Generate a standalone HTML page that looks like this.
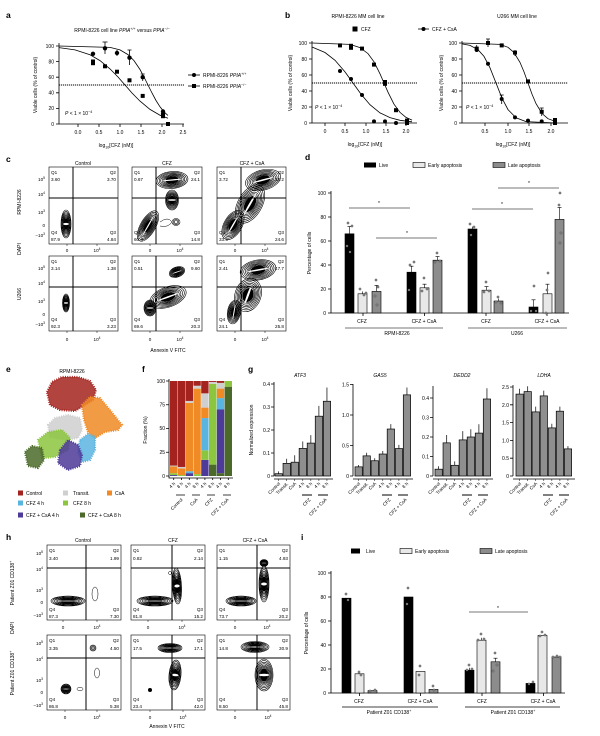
<!DOCTYPE html>
<html><head><meta charset="utf-8"><style>
html,body{margin:0;padding:0;background:#fff;}
svg{display:block;font-family:"Liberation Sans",Arial,sans-serif;}
</style></head><body>
<svg width="600" height="736" viewBox="0 0 600 736" xmlns="http://www.w3.org/2000/svg" font-size="5" fill="#000">
<defs>
<g id="bl" fill="none" stroke="#000" stroke-width="0.6">
<circle r="1" vector-effect="non-scaling-stroke"/>
<circle r="0.9" vector-effect="non-scaling-stroke"/>
<circle r="0.8" vector-effect="non-scaling-stroke"/>
<circle r="0.71" vector-effect="non-scaling-stroke"/>
<circle r="0.62" vector-effect="non-scaling-stroke"/>
<circle r="0.54" vector-effect="non-scaling-stroke"/>
<circle r="0.47" vector-effect="non-scaling-stroke"/>
<circle r="0.4" fill="#000" vector-effect="non-scaling-stroke"/>
<ellipse rx="0.6" ry="0.08" fill="#fff" stroke="none"/>
</g>
<g id="rg" fill="none" stroke="#000" stroke-width="0.55">
<circle r="1" vector-effect="non-scaling-stroke"/>
<circle r="0.7" vector-effect="non-scaling-stroke"/>
<circle r="0.4" vector-effect="non-scaling-stroke"/>
</g>
</defs>

<!-- panel letters -->
<g font-weight="bold" font-size="8.5">
<text x="6" y="18">a</text><text x="285" y="18">b</text><text x="6" y="162">c</text><text x="305" y="160">d</text>
<text x="6" y="372">e</text><text x="142" y="372">f</text><text x="248" y="372">g</text><text x="6" y="540">h</text><text x="301" y="540">i</text>
</g>

<!-- ================= PANEL A ================= -->
<text x="122" y="32" text-anchor="middle">RPMI-8226 cell line <tspan font-style="italic">PPIA</tspan><tspan dy="-2" font-size="3.6">+/+</tspan><tspan dy="2"> versus </tspan><tspan font-style="italic">PPIA</tspan><tspan dy="-2" font-size="3.6">−/−</tspan></text>
<g stroke="#000" stroke-width="0.8" fill="none">
<polyline points="59,43 59,124 184,124"/>
<path d="M56,124H59M56,108.4H59M56,92.8H59M56,77.2H59M56,61.6H59M56,46H59"/>
<path d="M78,124V127M99,124V127M120,124V127M141,124V127M162,124V127M183,124V127"/>
<line x1="59" y1="85" x2="184" y2="85" stroke-dasharray="1.2,0.8" stroke-width="1"/>
<polyline points="59,46 110,47.4 120,49.9 128,54.6 134,60.6 140,69.5 144,77 148,85 152,93 156,100.5 160,106.8 164,111.8 168,115.5"/>
<polyline points="59,47.6 75,49.9 90,54.8 100,60.6 110,68.9 118,77 125,85 132,93 140,101.1 150,109.4 160,115.2 168,118.2"/>
<path d="M105,42V54M102.5,42H107.5M129.5,50V65M127.5,50H131.5M142.7,74V81M140.7,74H144.7M117,50V56"/>
</g>
<g text-anchor="end"><text x="54" y="126">0</text><text x="54" y="110.2">20</text><text x="54" y="94.6">40</text><text x="54" y="79">60</text><text x="54" y="63.4">80</text><text x="54" y="47.8">100</text></g>
<g text-anchor="middle"><text x="78" y="134">0.0</text><text x="99" y="134">0.5</text><text x="120" y="134">1.0</text><text x="141" y="134">1.5</text><text x="162" y="134">2.0</text><text x="183" y="134">2.5</text>
<text x="116" y="147">log<tspan dy="1.5" font-size="3.6">10</tspan><tspan dy="-1.5">[CFZ (nM)]</tspan></text></g>
<text transform="translate(37,85) rotate(-90)" text-anchor="middle">Viable cells (% of control)</text>
<text x="65" y="115"><tspan font-style="italic">P</tspan> &lt; 1 × 10<tspan dy="-2" font-size="3.6">−4</tspan></text>
<g>
<circle cx="93" cy="53.8" r="2.2"/><circle cx="105" cy="48.3" r="2.2"/><circle cx="117" cy="53" r="2.2"/><circle cx="129.5" cy="57.7" r="2.2"/><circle cx="142.7" cy="77.2" r="2.2"/><circle cx="163" cy="111.5" r="2.2"/><circle cx="163" cy="114" r="2.2"/>
<rect x="91" y="61.2" width="4" height="4"/><rect x="91" y="59.5" width="4" height="4"/><rect x="103" y="64.3" width="4" height="4"/><rect x="115" y="69.7" width="4" height="4"/><rect x="127.5" y="78.3" width="4" height="4"/><rect x="140.7" y="93.9" width="4" height="4"/><rect x="161" y="114.2" width="4" height="4"/><rect x="166" y="122" width="4" height="4"/>
</g>
<line x1="188" y1="75" x2="200" y2="75" stroke="#000" stroke-width="0.8"/><circle cx="194" cy="75" r="2"/>
<text x="203" y="77">RPMI-8226 <tspan font-style="italic">PPIA</tspan><tspan dy="-2" font-size="3.6">+/+</tspan></text>
<line x1="188" y1="86" x2="200" y2="86" stroke="#000" stroke-width="0.8"/><rect x="192" y="84" width="4" height="4"/>
<text x="203" y="88">RPMI-8226 <tspan font-style="italic">PPIA</tspan><tspan dy="-2" font-size="3.6">−/−</tspan></text>

<!-- ================= PANEL B ================= -->
<text x="358" y="18" text-anchor="middle">RPMI-8226 MM cell line</text>
<text x="517" y="18" text-anchor="middle">U266 MM cell line</text>
<rect x="352.5" y="26.5" width="5" height="5"/><text x="361" y="31">CFZ</text>
<line x1="418" y1="29" x2="429" y2="29" stroke="#000" stroke-width="0.8"/><circle cx="423.5" cy="29" r="2"/><text x="432" y="31">CFZ + CsA</text>
<g stroke="#000" stroke-width="0.8" fill="none">
<polyline points="312,41 312,123 417,123"/>
<path d="M309,123H312M309,107H312M309,91H312M309,75H312M309,59H312M309,43H312"/>
<path d="M325,123V126M345,123V126M366,123V126M386,123V126M406,123V126"/>
<line x1="312" y1="83" x2="417" y2="83" stroke-dasharray="1.2,0.8" stroke-width="1"/>
<polyline points="312,43 350,44.4 360,47.6 368,53.6 374,61.8 380,73.8 384,83 388,92.2 394,104.2 400,112.4 406,117.4 412,120.1"/>
<polyline points="312,47 325,52.5 335,60.3 345,71.9 353,83 361,94.1 370,104.7 380,112.9 390,117.6 400,120.3 412,121.8"/>
<polyline points="462,41 462,123 568,123"/>
<path d="M459,123H462M459,107H462M459,91H462M459,75H462M459,59H462M459,43H462"/>
<path d="M485,123V126M508,123V126M529,123V126M551,123V126"/>
<line x1="462" y1="83" x2="568" y2="83" stroke-dasharray="1.2,0.8" stroke-width="1"/>
<polyline points="462,43 500,44.4 508,47.3 514,52.5 520,62.4 524,71.9 528,83 532,94.1 536,103.6 542,113.5 548,118.7 556,121.6"/>
<polyline points="462,43.9 470,45.4 478,49.7 484,56.4 490,67.8 496,83 502,98.2 508,109.6 516,117.8 526,121.6 556,123"/>
<path d="M488,39V47M486,39H490M501.7,95V104M499.7,95H503.7M541.7,108V116M539.7,108H543.7M476.7,45V52M515,50V56"/>
</g>
<g>
<rect x="338" y="43.4" width="4" height="4"/><rect x="349" y="45.8" width="4" height="4"/><rect x="349" y="43.8" width="4" height="4"/><rect x="360" y="46.6" width="4" height="4"/><rect x="372" y="62.6" width="4" height="4"/><rect x="383" y="81.8" width="4" height="4"/><rect x="383" y="80" width="4" height="4"/><rect x="394" y="108.2" width="4" height="4"/><rect x="405" y="118.6" width="4" height="4"/><rect x="405" y="121" width="4" height="4"/>
<circle cx="340" cy="71" r="2"/><circle cx="351" cy="79" r="2"/><circle cx="362" cy="95" r="2"/><circle cx="374" cy="121.4" r="2"/><circle cx="385" cy="121.4" r="2"/><circle cx="396" cy="123" r="2"/><circle cx="407" cy="123" r="2"/>
<rect x="474.7" y="46.6" width="4" height="4"/><rect x="486" y="41" width="4" height="4"/><rect x="499.7" y="43.4" width="4" height="4"/><rect x="513" y="50.6" width="4" height="4"/><rect x="526" y="79.4" width="4" height="4"/><rect x="539.7" y="109.8" width="4" height="4"/><rect x="553" y="121" width="4" height="4"/><rect x="553" y="118" width="4" height="4"/>
<circle cx="476.7" cy="50" r="2"/><circle cx="488" cy="63.8" r="2"/><circle cx="501.7" cy="99" r="2"/><circle cx="515" cy="117.4" r="2"/><circle cx="528" cy="120.6" r="2"/><circle cx="541.7" cy="121.4" r="2"/><circle cx="555" cy="123" r="2"/>
</g>
<g text-anchor="end"><text x="307" y="125">0</text><text x="307" y="109">20</text><text x="307" y="93">40</text><text x="307" y="77">60</text><text x="307" y="61">80</text><text x="307" y="45">100</text>
<text x="457" y="125">0</text><text x="457" y="109">20</text><text x="457" y="93">40</text><text x="457" y="77">60</text><text x="457" y="61">80</text><text x="457" y="45">100</text></g>
<g text-anchor="middle"><text x="325" y="133">0</text><text x="345" y="133">0.5</text><text x="366" y="133">1.0</text><text x="386" y="133">1.5</text><text x="406" y="133">2.0</text>
<text x="485" y="133">0.5</text><text x="508" y="133">1.0</text><text x="529" y="133">1.5</text><text x="551" y="133">2.0</text>
<text x="365" y="146">log<tspan dy="1.5" font-size="3.6">10</tspan><tspan dy="-1.5">[CFZ (nM)]</tspan></text>
<text x="513" y="146">log<tspan dy="1.5" font-size="3.6">10</tspan><tspan dy="-1.5">[CFZ (nM)]</tspan></text></g>
<text transform="translate(292,83) rotate(-90)" text-anchor="middle">Viable cells (% of control)</text>
<text transform="translate(443,83) rotate(-90)" text-anchor="middle">Viable cells (% of control)</text>
<text x="315" y="109"><tspan font-style="italic">P</tspan> &lt; 1 × 10<tspan dy="-2" font-size="3.6">−4</tspan></text>
<text x="466" y="109"><tspan font-style="italic">P</tspan> &lt; 1 × 10<tspan dy="-2" font-size="3.6">−4</tspan></text>

<!-- ================= PANEL C ================= -->
<g text-anchor="middle"><text x="83" y="165">Control</text><text x="167" y="165">CFZ</text><text x="252" y="165">CFZ + CsA</text></g>
<text transform="translate(21,202) rotate(-90)" text-anchor="middle">RPMI-8226</text>
<text transform="translate(21,249) rotate(-90)" text-anchor="middle">DAPI</text>
<text transform="translate(21,294) rotate(-90)" text-anchor="middle">U266</text>
<!-- contours c -->
<use href="#bl" transform="translate(66,224) scale(5,14)"/>
<use href="#bl" transform="translate(172,180) rotate(-5) scale(16,8.5)"/>
<use href="#bl" transform="translate(172,200) scale(6.5,10)"/>
<use href="#rg" transform="translate(176,222) scale(4,3.5)"/>
<path d="M160,222 Q168,216 172,222 Q168,228 160,226" fill="none" stroke="#000" stroke-width="0.5"/>
<use href="#bl" transform="translate(148,226) rotate(-60) scale(17,7.5)"/>
<use href="#bl" transform="translate(263,180) rotate(-15) scale(18,10)"/>
<use href="#bl" transform="translate(250,204) rotate(-60) scale(21,12)"/>
<use href="#bl" transform="translate(233,225) rotate(-60) scale(16,9)"/>
<use href="#bl" transform="translate(66,303) scale(3.5,9)"/>
<use href="#bl" transform="translate(177,272) rotate(-20) scale(8,5)"/>
<use href="#bl" transform="translate(168,297) rotate(-20) scale(19,10)"/>
<use href="#bl" transform="translate(150,308) scale(6,8)"/>
<use href="#bl" transform="translate(258,270) rotate(-10) scale(18,10)"/>
<use href="#bl" transform="translate(248,295) rotate(-70) scale(17,13)"/>
<use href="#bl" transform="translate(234,312) rotate(-80) scale(12,6.5)"/>
<g fill="none" stroke="#000">
<rect x="49" y="167" width="69" height="77" stroke-width="0.6"/><rect x="132" y="167" width="70" height="77" stroke-width="0.6"/><rect x="217" y="167" width="69" height="77" stroke-width="0.6"/>
<rect x="49" y="256" width="69" height="75" stroke-width="0.6"/><rect x="132" y="256" width="70" height="75" stroke-width="0.6"/><rect x="217" y="256" width="69" height="75" stroke-width="0.6"/>
<path stroke-width="1" d="M73,167V244M156,167V244M241,167V244M49,198H118M132,198H202M217,198H286M73,256V331M156,256V331M241,256V331M49,287H118M132,287H202M217,287H286"/>
<path stroke-width="0.5" d="M67,244V246M97,244V246M150,244V246M180,244V246M235,244V246M265,244V246M67,331V333M97,331V333M150,331V333M180,331V333M235,331V333M265,331V333"/>
</g>
<g font-size="4.6">
<text x="51" y="174">Q1</text><text x="51" y="181">3.60</text><text x="116" y="174" text-anchor="end">Q2</text><text x="116" y="181" text-anchor="end">3.70</text>
<text x="51" y="234">Q4</text><text x="51" y="241">87.9</text><text x="116" y="234" text-anchor="end">Q3</text><text x="116" y="241" text-anchor="end">4.84</text>
<text x="134" y="174">Q1</text><text x="134" y="181">0.67</text><text x="200" y="174" text-anchor="end">Q2</text><text x="200" y="181" text-anchor="end">24.1</text>
<text x="134" y="234">Q4</text><text x="134" y="241">60.4</text><text x="200" y="234" text-anchor="end">Q3</text><text x="200" y="241" text-anchor="end">14.8</text>
<text x="219" y="174">Q1</text><text x="219" y="181">3.72</text><text x="284" y="174" text-anchor="end">Q2</text><text x="284" y="181" text-anchor="end">38.2</text>
<text x="219" y="234">Q4</text><text x="219" y="241">33.5</text><text x="284" y="234" text-anchor="end">Q3</text><text x="284" y="241" text-anchor="end">24.6</text>
<text x="51" y="263">Q1</text><text x="51" y="270">3.14</text><text x="116" y="263" text-anchor="end">Q2</text><text x="116" y="270" text-anchor="end">1.38</text>
<text x="51" y="321">Q4</text><text x="51" y="328">92.3</text><text x="116" y="321" text-anchor="end">Q3</text><text x="116" y="328" text-anchor="end">3.23</text>
<text x="134" y="263">Q1</text><text x="134" y="270">0.51</text><text x="200" y="263" text-anchor="end">Q2</text><text x="200" y="270" text-anchor="end">9.60</text>
<text x="134" y="321">Q4</text><text x="134" y="328">69.6</text><text x="200" y="321" text-anchor="end">Q3</text><text x="200" y="328" text-anchor="end">20.3</text>
<text x="219" y="263">Q1</text><text x="219" y="270">2.41</text><text x="284" y="263" text-anchor="end">Q2</text><text x="284" y="270" text-anchor="end">47.7</text>
<text x="219" y="321">Q4</text><text x="219" y="328">24.1</text><text x="284" y="321" text-anchor="end">Q3</text><text x="284" y="328" text-anchor="end">25.8</text>
</g>
<g font-size="4.6" text-anchor="end">
<text x="45" y="181">10<tspan dy="-1.8" font-size="3.3">5</tspan></text><text x="45" y="196">10<tspan dy="-1.8" font-size="3.3">4</tspan></text><text x="45" y="214">10<tspan dy="-1.8" font-size="3.3">3</tspan></text><text x="45" y="227">0</text><text x="45" y="237">−10<tspan dy="-1.8" font-size="3.3">3</tspan></text>
<text x="45" y="270">10<tspan dy="-1.8" font-size="3.3">5</tspan></text><text x="45" y="285">10<tspan dy="-1.8" font-size="3.3">4</tspan></text><text x="45" y="303">10<tspan dy="-1.8" font-size="3.3">3</tspan></text><text x="45" y="316">0</text><text x="45" y="326">−10<tspan dy="-1.8" font-size="3.3">3</tspan></text>
</g>
<g font-size="4.6" text-anchor="middle">
<text x="67" y="252">0</text><text x="97" y="252">10<tspan dy="-1.8" font-size="3.3">4</tspan></text><text x="150" y="252">0</text><text x="180" y="252">10<tspan dy="-1.8" font-size="3.3">4</tspan></text><text x="235" y="252">0</text><text x="265" y="252">10<tspan dy="-1.8" font-size="3.3">4</tspan></text>
<text x="67" y="341">0</text><text x="97" y="341">10<tspan dy="-1.8" font-size="3.3">4</tspan></text><text x="150" y="341">0</text><text x="180" y="341">10<tspan dy="-1.8" font-size="3.3">4</tspan></text><text x="235" y="341">0</text><text x="265" y="341">10<tspan dy="-1.8" font-size="3.3">4</tspan></text>
</g>
<text x="168" y="352" text-anchor="middle">Annexin V FITC</text>

<!-- ================= PANEL D ================= -->
<rect x="364" y="162.5" width="12" height="5"/><text x="379" y="167">Live</text>
<rect x="413" y="162.5" width="12" height="5" fill="#e8e8e8" stroke="#000" stroke-width="0.6"/><text x="428" y="167">Early apoptosis</text>
<rect x="493" y="162.5" width="12" height="5" fill="#8c8c8c" stroke="#000" stroke-width="0.6"/><text x="508" y="167">Late apoptosis</text>
<g stroke="#000" stroke-width="0.8" fill="none">
<polyline points="331,191 331,313 569,313"/>
<path d="M328,313H331M328,289H331M328,265H331M328,241H331M328,217H331M328,193H331"/>
<path d="M363,313V316M424.5,313V316M486,313V316M547,313V316"/>
</g>
<g text-anchor="end"><text x="326" y="315">0</text><text x="326" y="291">20</text><text x="326" y="267">40</text><text x="326" y="243">60</text><text x="326" y="219">80</text><text x="326" y="195">100</text></g>
<text transform="translate(311,253) rotate(-90)" text-anchor="middle">Percentage of cells</text>
<g stroke="#000" stroke-width="0.6">
<rect x="345" y="233.8" width="9" height="79.2" fill="#000"/>
<rect x="358" y="293.8" width="9" height="19.2" fill="#e8e8e8"/>
<rect x="372" y="291.4" width="9" height="21.6" fill="#8c8c8c"/>
<rect x="407" y="272.2" width="9" height="40.8" fill="#000"/>
<rect x="420" y="287.8" width="9" height="25.2" fill="#e8e8e8"/>
<rect x="433" y="260.2" width="9" height="52.8" fill="#8c8c8c"/>
<rect x="468" y="229" width="9" height="84" fill="#000"/>
<rect x="482" y="290.2" width="9" height="22.8" fill="#e8e8e8"/>
<rect x="494" y="301" width="9" height="12" fill="#8c8c8c"/>
<rect x="529" y="307" width="9" height="6" fill="#000"/>
<rect x="543" y="293.8" width="9" height="19.2" fill="#e8e8e8"/>
<rect x="555" y="219.4" width="9" height="93.6" fill="#8c8c8c"/>
<path fill="none" d="M349.5,233.8V226.6M347.5,226.6H351.5M362.5,293.8V291.4M376.5,291.4V285.4M374.5,285.4H378.5M411.5,272.2V266.2M409.5,266.2H413.5M424.5,287.8V284.2M422.5,284.2H426.5M437.5,260.2V256.6M435.5,256.6H439.5M472.5,229V226.6M486.5,290.2V286.6M484.5,286.6H488.5M498.5,301V298.6M533.5,307V299.8M531.5,299.8H535.5M547.5,293.8V284.2M545.5,284.2H549.5M559.5,219.4V207.4M557.5,207.4H561.5"/>
</g>
<g fill="#aaa" stroke="#333" stroke-width="0.5">
<circle cx="348" cy="223" r="1.1"/><circle cx="352" cy="226" r="1.1"/><circle cx="347" cy="246" r="1.1"/><circle cx="350" cy="252" r="1.1"/>
<circle cx="360" cy="289" r="1.1"/><circle cx="364" cy="295" r="1.1"/><circle cx="366" cy="293" r="1.1"/>
<circle cx="376" cy="280" r="1.1"/><circle cx="375" cy="296" r="1.1"/><circle cx="377" cy="305" r="1.1"/><circle cx="378" cy="287" r="1.1"/>
<circle cx="410" cy="265" r="1.1"/><circle cx="414" cy="262" r="1.1"/><circle cx="409" cy="290" r="1.1"/>
<circle cx="424" cy="278" r="1.1"/><circle cx="422" cy="291" r="1.1"/><circle cx="427" cy="289" r="1.1"/>
<circle cx="437" cy="253" r="1.1"/><circle cx="435" cy="262" r="1.1"/><circle cx="440" cy="261" r="1.1"/>
<circle cx="470" cy="224" r="1.1"/><circle cx="474" cy="227" r="1.1"/><circle cx="471" cy="235" r="1.1"/>
<circle cx="486" cy="282" r="1.1"/><circle cx="484" cy="292" r="1.1"/><circle cx="489" cy="291" r="1.1"/>
<circle cx="498" cy="297" r="1.1"/><circle cx="496" cy="302" r="1.1"/><circle cx="501" cy="303" r="1.1"/>
<circle cx="534" cy="286" r="1.1"/><circle cx="531" cy="311" r="1.1"/><circle cx="536" cy="311" r="1.1"/>
<circle cx="548" cy="273" r="1.1"/><circle cx="547" cy="290" r="1.1"/><circle cx="546" cy="313" r="1.1"/>
<circle cx="560" cy="193" r="1.1"/><circle cx="559" cy="205" r="1.1"/><circle cx="561" cy="233" r="1.1"/><circle cx="560" cy="243" r="1.1"/>
</g>
<g stroke="#777" stroke-width="0.9">
<line x1="349" y1="208" x2="410" y2="208"/><line x1="376" y1="238" x2="437" y2="238"/><line x1="472" y1="209" x2="533" y2="209"/><line x1="498" y1="188" x2="559" y2="188"/>
<line x1="345" y1="328" x2="443" y2="328"/><line x1="468" y1="328" x2="567" y2="328"/>
</g>
<g text-anchor="middle"><text x="379" y="205">*</text><text x="407" y="235">*</text><text x="502" y="206">*</text><text x="529" y="185">*</text>
<text x="362" y="323">CFZ</text><text x="424" y="323">CFZ + CsA</text><text x="486" y="323">CFZ</text><text x="547" y="323">CFZ + CsA</text>
<text x="397" y="335">RPMI-8226</text><text x="517" y="335">U266</text></g>

<!-- ================= PANEL E ================= -->
<text x="72" y="373" text-anchor="middle">RPMI-8226</text>
<g stroke-width="2.2" stroke-dasharray="1,1.3" fill-opacity="0.85">
<polygon fill="#a5231f" stroke="#a5231f" points="47,392 52,382 62,377 78,377 90,381 96,390 93,400 85,405 75,411 60,410 50,405"/>
<polygon fill="#f08a24" stroke="#f08a24" points="82,405 90,397 100,398 110,410 122,425 118,430 105,432 95,438 88,432 84,420"/>
<polygon fill="#cfcfcf" stroke="#cfcfcf" points="48,425 55,418 68,415 80,418 82,430 78,438 65,440 50,437"/>
<polygon fill="#5ab4e0" stroke="#5ab4e0" points="80,440 88,434 95,437 95,450 90,460 82,462 78,452"/>
<polygon fill="#8cc63f" stroke="#8cc63f" points="38,440 48,432 62,430 70,438 68,450 55,457 42,458"/>
<polygon fill="#4e3a98" stroke="#4e3a98" points="60,450 68,440 78,445 82,455 80,466 68,470 58,463"/>
<polygon fill="#4b6a2a" stroke="#4b6a2a" points="25,452 32,446 42,448 44,460 38,468 28,466"/>
</g>
<rect x="18" y="490.5" width="5" height="5" fill="#a5231f"/><text x="26" y="495">Control</text>
<rect x="63" y="490.5" width="5" height="5" fill="#cfcfcf"/><text x="73" y="495">Transit.</text>
<rect x="107" y="490.5" width="5" height="5" fill="#f08a24"/><text x="115" y="495">CsA</text>
<rect x="18" y="500.5" width="5" height="5" fill="#5ab4e0"/><text x="26" y="505">CFZ 4 h</text>
<rect x="63" y="500.5" width="5" height="5" fill="#8cc63f"/><text x="73" y="505">CFZ 8 h</text>
<rect x="18" y="512.5" width="5" height="5" fill="#4e3a98"/><text x="26" y="517">CFZ + CsA 4 h</text>
<rect x="80" y="512.5" width="5" height="5" fill="#4b6a2a"/><text x="88" y="517">CFZ + CsA 8 h</text>

<!-- ================= PANEL F ================= -->
<g>
<rect x="170" y="475.05" width="7.4" height="0.95" fill="#4e3a98"/><rect x="170" y="473.15" width="7.4" height="1.9" fill="#8cc63f"/><rect x="170" y="466.5" width="7.4" height="6.65" fill="#f08a24"/><rect x="170" y="465.55" width="7.4" height="0.95" fill="#cfcfcf"/><rect x="170" y="381" width="7.4" height="84.55" fill="#a5231f"/>
<rect x="177.8" y="475.05" width="7.4" height="0.95" fill="#8cc63f"/><rect x="177.8" y="468.4" width="7.4" height="6.65" fill="#f08a24"/><rect x="177.8" y="466.975" width="7.4" height="1.425" fill="#cfcfcf"/><rect x="177.8" y="381" width="7.4" height="85.975" fill="#a5231f"/>
<rect x="185.6" y="473.15" width="7.4" height="2.85" fill="#4e3a98"/><rect x="185.6" y="471.25" width="7.4" height="1.9" fill="#5ab4e0"/><rect x="185.6" y="402.85" width="7.4" height="68.4" fill="#f08a24"/><rect x="185.6" y="400.95" width="7.4" height="1.9" fill="#cfcfcf"/><rect x="185.6" y="381" width="7.4" height="19.95" fill="#a5231f"/>
<rect x="193.4" y="474.1" width="7.4" height="1.9" fill="#8cc63f"/><rect x="193.4" y="388.6" width="7.4" height="85.5" fill="#f08a24"/><rect x="193.4" y="385.75" width="7.4" height="2.85" fill="#cfcfcf"/><rect x="193.4" y="381" width="7.4" height="4.75" fill="#a5231f"/>
<rect x="201.2" y="459.85" width="7.4" height="16.15" fill="#4e3a98"/><rect x="201.2" y="450.35" width="7.4" height="9.5" fill="#8cc63f"/><rect x="201.2" y="418.05" width="7.4" height="32.3" fill="#5ab4e0"/><rect x="201.2" y="407.6" width="7.4" height="10.45" fill="#f08a24"/><rect x="201.2" y="393.35" width="7.4" height="14.25" fill="#cfcfcf"/><rect x="201.2" y="381" width="7.4" height="12.35" fill="#a5231f"/>
<rect x="209" y="464.6" width="7.4" height="11.4" fill="#4b6a2a"/><rect x="209" y="383.85" width="7.4" height="80.75" fill="#8cc63f"/><rect x="209" y="381.95" width="7.4" height="1.9" fill="#cfcfcf"/><rect x="209" y="381" width="7.4" height="0.95" fill="#a5231f"/>
<rect x="216.8" y="473.15" width="7.4" height="2.85" fill="#4b6a2a"/><rect x="216.8" y="409.5" width="7.4" height="63.65" fill="#4e3a98"/><rect x="216.8" y="398.1" width="7.4" height="11.4" fill="#5ab4e0"/><rect x="216.8" y="388.6" width="7.4" height="9.5" fill="#f08a24"/><rect x="216.8" y="382.9" width="7.4" height="5.7" fill="#cfcfcf"/><rect x="216.8" y="381" width="7.4" height="1.9" fill="#a5231f"/>
<rect x="224.6" y="386.7" width="7.4" height="89.3" fill="#4b6a2a"/><rect x="224.6" y="381" width="7.4" height="5.7" fill="#8cc63f"/>
</g>
<g stroke="#000" stroke-width="0.8" fill="none">
<polyline points="169,379 169,478 233,478"/>
<path d="M166,381H169M166,404.75H169M166,428.5H169M166,452.25H169M166,476H169"/>
<path d="M173.7,478V480M181.5,478V480M189.3,478V480M197.1,478V480M204.9,478V480M212.7,478V480M220.5,478V480M228.3,478V480"/>
<path d="M176,495H185M192,495H200M207,495H215M223,495H231"/>
</g>
<g text-anchor="end"><text x="165" y="383">100</text><text x="165" y="406.5">75</text><text x="165" y="430">50</text><text x="165" y="454">25</text><text x="165" y="478">0</text></g>
<text transform="translate(147,430) rotate(-90)" text-anchor="middle">Fraction (%)</text>
<g text-anchor="end" font-size="4.6">
<text transform="translate(175.5,484) rotate(-45)">4 h</text><text transform="translate(183.3,484) rotate(-45)">8 h</text>
<text transform="translate(191.1,484) rotate(-45)">4 h</text><text transform="translate(198.9,484) rotate(-45)">8 h</text>
<text transform="translate(206.7,484) rotate(-45)">4 h</text><text transform="translate(214.5,484) rotate(-45)">8 h</text>
<text transform="translate(222.3,484) rotate(-45)">4 h</text><text transform="translate(230.1,484) rotate(-45)">8 h</text>
<text transform="translate(183,500) rotate(-45)">Control</text><text transform="translate(198,500) rotate(-45)">CsA</text>
<text transform="translate(213,500) rotate(-45)">CFZ</text><text transform="translate(229,500) rotate(-45)">CFZ + CsA</text>
</g>

<!-- ================= PANEL G ================= -->
<g font-style="italic" text-anchor="middle"><text x="300" y="377">ATF3</text><text x="380" y="377">GAS5</text><text x="462" y="377">DEDD2</text><text x="544" y="377">LDHA</text></g>
<text transform="translate(253,430) rotate(-90)" text-anchor="middle">Normalized expression</text>
<g stroke="#000" stroke-width="0.8" fill="none">
<path d="M274,382V476M271,476H274M271,453H274M271,430H274M271,407H274M271,384H274M274,479H333"/>
<path d="M353,384V476M350,476H353M350,445.5H353M350,415H353M350,384.5H353M353,479H413"/>
<path d="M433,386V476M430,476H433M430,456.5H433M430,437H433M430,417.5H433M430,398H433M433,479H493"/>
<path d="M513,385V476M510,476H513M510,458.2H513M510,440.4H513M510,422.6H513M510,404.8H513M510,387H513M513,479H575"/>
<path stroke-width="0.5" d="M278.65,479V481M286.7,479V481M294.75,479V481M302.8,479V481M310.85,479V481M318.9,479V481M326.95,479V481
M358.65,479V481M366.7,479V481M374.75,479V481M382.8,479V481M390.85,479V481M398.9,479V481M406.95,479V481
M438.65,479V481M446.7,479V481M454.75,479V481M462.8,479V481M470.85,479V481M478.9,479V481M486.95,479V481
M519.65,479V481M527.7,479V481M535.75,479V481M543.8,479V481M551.85,479V481M559.9,479V481M567.95,479V481"/>
<path stroke-width="1" d="M302,495H312M318,495H328M382,495H392M398,495H408M462,495H472M478,495H488M543,495H553M559,495H569"/>
</g>
<g fill="#8f8f8f" stroke="#000" stroke-width="0.7">
<rect x="275" y="473.7" width="7.3" height="2.3"/><rect x="283.05" y="463.35" width="7.3" height="12.65"/><rect x="291.1" y="462.2" width="7.3" height="13.8"/><rect x="299.15" y="448.4" width="7.3" height="27.6"/><rect x="307.2" y="443.1" width="7.3" height="32.9"/><rect x="315.25" y="416.2" width="7.3" height="59.8"/><rect x="323.3" y="401.25" width="7.3" height="74.75"/>
<rect x="355" y="466.85" width="7.3" height="9.15"/><rect x="363.05" y="455.87" width="7.3" height="20.13"/><rect x="371.1" y="460.75" width="7.3" height="15.25"/><rect x="379.15" y="454.04" width="7.3" height="21.96"/><rect x="387.2" y="429.03" width="7.3" height="46.97"/><rect x="395.25" y="448.55" width="7.3" height="27.45"/><rect x="403.3" y="394.87" width="7.3" height="81.13"/>
<rect x="435" y="469.2" width="7.3" height="6.8"/><rect x="443.05" y="442.85" width="7.3" height="33.15"/><rect x="451.1" y="465.3" width="7.3" height="10.7"/><rect x="459.15" y="439.9" width="7.3" height="36.1"/><rect x="467.2" y="437" width="7.3" height="39"/><rect x="475.25" y="433.1" width="7.3" height="42.9"/><rect x="483.3" y="399" width="7.3" height="77"/>
<rect x="516" y="394.1" width="7.3" height="81.9"/><rect x="524.05" y="391.6" width="7.3" height="84.4"/><rect x="532.1" y="411.9" width="7.3" height="64.1"/><rect x="540.15" y="395.9" width="7.3" height="80.1"/><rect x="548.2" y="427.9" width="7.3" height="48.1"/><rect x="556.25" y="411.2" width="7.3" height="64.8"/><rect x="564.3" y="448.9" width="7.3" height="27.1"/>
</g>
<g stroke="#000" stroke-width="0.7" fill="none">
<path d="M278.65,473.7V471.4M286.7,463.35V458.75M294.75,462.2V455.3M302.8,448.4V441.5M310.85,443.1V435.1M318.9,416.2V405.85M326.95,401.25V387.45
M358.65,466.85V465M366.7,455.87V452.8M374.75,460.75V458.3M382.8,454V451M390.85,429V424.15M398.9,448.55V444.9M406.95,394.87V387.55
M438.65,469.2V466.25M446.7,442.85V435M454.75,465.3V461.4M462.8,439.9V431.15M470.85,437V429.2M478.9,433.1V424.3M486.95,399V388.25
M519.65,394.1V388.8M527.7,391.6V386.3M535.75,411.9V406.6M543.8,395.9V390.6M551.85,427.9V423.7M559.9,411.2V406.6M567.95,448.9V446.1"/>
</g>
<g text-anchor="end">
<text x="270" y="478">0</text><text x="270" y="455">0.1</text><text x="270" y="432">0.2</text><text x="270" y="409">0.3</text><text x="270" y="386">0.4</text>
<text x="349" y="478">0</text><text x="349" y="447.5">0.5</text><text x="349" y="417">1.0</text><text x="349" y="386.5">1.5</text>
<text x="429" y="478">0</text><text x="429" y="458.5">0.1</text><text x="429" y="439">0.2</text><text x="429" y="419.5">0.3</text><text x="429" y="400">0.4</text>
<text x="509" y="478">0</text><text x="509" y="460.2">0.5</text><text x="509" y="442.4">1.0</text><text x="509" y="424.6">1.5</text><text x="509" y="406.8">2.0</text><text x="509" y="389">2.5</text>
</g>
<g text-anchor="end" font-size="4.6">
<text transform="translate(280.5,484) rotate(-45)">Control</text><text transform="translate(288.5,484) rotate(-45)">Transit.</text><text transform="translate(296.5,484) rotate(-45)">CsA</text><text transform="translate(304.5,484) rotate(-45)">4 h</text><text transform="translate(312.5,484) rotate(-45)">8 h</text><text transform="translate(320.5,484) rotate(-45)">4 h</text><text transform="translate(328.5,484) rotate(-45)">8 h</text>
<text transform="translate(311,500) rotate(-45)">CFZ</text><text transform="translate(327,500) rotate(-45)">CFZ + CsA</text>
<text transform="translate(360.5,484) rotate(-45)">Control</text><text transform="translate(368.5,484) rotate(-45)">Transit.</text><text transform="translate(376.5,484) rotate(-45)">CsA</text><text transform="translate(384.5,484) rotate(-45)">4 h</text><text transform="translate(392.5,484) rotate(-45)">8 h</text><text transform="translate(400.5,484) rotate(-45)">4 h</text><text transform="translate(408.5,484) rotate(-45)">8 h</text>
<text transform="translate(391,500) rotate(-45)">CFZ</text><text transform="translate(407,500) rotate(-45)">CFZ + CsA</text>
<text transform="translate(440.5,484) rotate(-45)">Control</text><text transform="translate(448.5,484) rotate(-45)">Transit.</text><text transform="translate(456.5,484) rotate(-45)">CsA</text><text transform="translate(464.5,484) rotate(-45)">4 h</text><text transform="translate(472.5,484) rotate(-45)">8 h</text><text transform="translate(480.5,484) rotate(-45)">4 h</text><text transform="translate(488.5,484) rotate(-45)">8 h</text>
<text transform="translate(471,500) rotate(-45)">CFZ</text><text transform="translate(487,500) rotate(-45)">CFZ + CsA</text>
<text transform="translate(521.5,484) rotate(-45)">Control</text><text transform="translate(529.5,484) rotate(-45)">Transit.</text><text transform="translate(537.5,484) rotate(-45)">CsA</text><text transform="translate(545.5,484) rotate(-45)">4 h</text><text transform="translate(553.5,484) rotate(-45)">8 h</text><text transform="translate(561.5,484) rotate(-45)">4 h</text><text transform="translate(569.5,484) rotate(-45)">8 h</text>
<text transform="translate(552,500) rotate(-45)">CFZ</text><text transform="translate(568,500) rotate(-45)">CFZ + CsA</text>
</g>

<!-- ================= PANEL H ================= -->
<g text-anchor="middle"><text x="83" y="542">Control</text><text x="173" y="542">CFZ</text><text x="255" y="542">CFZ + CsA</text></g>
<text transform="translate(14,583) rotate(-90)" text-anchor="middle">Patient Z01 CD138<tspan dy="-2" font-size="3.6">+</tspan></text>
<text transform="translate(14,628) rotate(-90)" text-anchor="middle">DAPI</text>
<text transform="translate(14,673) rotate(-90)" text-anchor="middle">Patient Z01 CD138<tspan dy="-2" font-size="3.6">+</tspan></text>
<!-- contours h -->
<use href="#bl" transform="translate(68,601) scale(17,5)"/>
<ellipse cx="95" cy="594" rx="3" ry="7" fill="none" stroke="#000" stroke-width="0.5"/>
<use href="#bl" transform="translate(155,601) scale(18,5)"/>
<use href="#bl" transform="translate(177,586) rotate(-3) scale(4.5,18)"/>
<circle cx="170" cy="573" r="1.5" fill="none" stroke="#000" stroke-width="0.5"/>
<use href="#bl" transform="translate(241,601) scale(15,5)"/>
<use href="#bl" transform="translate(264,584) scale(5,18)"/>
<use href="#bl" transform="translate(264,563) scale(4,3.5)"/>
<use href="#bl" transform="translate(66,689) scale(5,5)"/>
<ellipse cx="80" cy="689" rx="3" ry="1.8" fill="none" stroke="#000" stroke-width="0.5"/>
<ellipse cx="97" cy="673" rx="2.5" ry="5" fill="none" stroke="#000" stroke-width="0.5"/>
<use href="#rg" transform="translate(93,648) scale(3,3)"/>
<use href="#bl" transform="translate(170,648) scale(12,4.5)"/>
<use href="#bl" transform="translate(175,675) rotate(5) scale(6,15)"/>
<circle cx="150" cy="690" r="2" fill="#000"/>
<use href="#bl" transform="translate(255,647) scale(14,5.5)"/>
<use href="#bl" transform="translate(264,675) scale(9,16)"/>
<g fill="none" stroke="#000">
<rect x="47" y="545" width="74" height="75" stroke-width="0.6"/><rect x="131" y="545" width="74" height="75" stroke-width="0.6"/><rect x="217" y="545" width="73" height="75" stroke-width="0.6"/>
<rect x="47" y="635" width="74" height="75" stroke-width="0.6"/><rect x="131" y="635" width="74" height="75" stroke-width="0.6"/><rect x="217" y="635" width="73" height="75" stroke-width="0.6"/>
<path stroke-width="1" d="M86,545V620M172,545V620M257,545V620M47,568H121M131,568H205M217,568H290M86,635V710M172,635V710M257,635V710M47,658H121M131,658H205M217,658H290"/>
<path stroke-width="0.5" d="M63,620V622M97,620V622M148,620V622M182,620V622M235,620V622M267,620V622M65,710V712M97,710V712M150,710V712M183,710V712M235,710V712M268,710V712"/>
</g>
<g font-size="4.6">
<text x="49" y="552">Q1</text><text x="49" y="560">3.40</text><text x="119" y="552" text-anchor="end">Q2</text><text x="119" y="560" text-anchor="end">1.99</text>
<text x="49" y="611">Q4</text><text x="49" y="618">87.3</text><text x="119" y="611" text-anchor="end">Q3</text><text x="119" y="618" text-anchor="end">7.30</text>
<text x="133" y="552">Q1</text><text x="133" y="560">0.82</text><text x="203" y="552" text-anchor="end">Q2</text><text x="203" y="560" text-anchor="end">2.14</text>
<text x="133" y="611">Q4</text><text x="133" y="618">81.8</text><text x="203" y="611" text-anchor="end">Q3</text><text x="203" y="618" text-anchor="end">15.2</text>
<text x="219" y="552">Q1</text><text x="219" y="560">1.15</text><text x="288" y="552" text-anchor="end">Q2</text><text x="288" y="560" text-anchor="end">4.93</text>
<text x="219" y="611">Q4</text><text x="219" y="618">73.7</text><text x="288" y="611" text-anchor="end">Q3</text><text x="288" y="618" text-anchor="end">20.2</text>
<text x="49" y="642">Q1</text><text x="49" y="650">3.35</text><text x="119" y="642" text-anchor="end">Q2</text><text x="119" y="650" text-anchor="end">4.50</text>
<text x="49" y="701">Q4</text><text x="49" y="708">86.8</text><text x="119" y="701" text-anchor="end">Q3</text><text x="119" y="708" text-anchor="end">5.38</text>
<text x="133" y="642">Q1</text><text x="133" y="650">17.5</text><text x="203" y="642" text-anchor="end">Q2</text><text x="203" y="650" text-anchor="end">17.1</text>
<text x="133" y="701">Q4</text><text x="133" y="708">23.4</text><text x="203" y="701" text-anchor="end">Q3</text><text x="203" y="708" text-anchor="end">42.0</text>
<text x="219" y="642">Q1</text><text x="219" y="650">14.8</text><text x="288" y="642" text-anchor="end">Q2</text><text x="288" y="650" text-anchor="end">30.9</text>
<text x="219" y="701">Q4</text><text x="219" y="708">8.50</text><text x="288" y="701" text-anchor="end">Q3</text><text x="288" y="708" text-anchor="end">45.8</text>
</g>
<g font-size="4.6" text-anchor="end">
<text x="43" y="555">10<tspan dy="-1.8" font-size="3.3">5</tspan></text><text x="43" y="571">10<tspan dy="-1.8" font-size="3.3">4</tspan></text><text x="43" y="592">10<tspan dy="-1.8" font-size="3.3">3</tspan></text><text x="43" y="604">0</text><text x="43" y="617">−10<tspan dy="-1.8" font-size="3.3">3</tspan></text>
<text x="43" y="645">10<tspan dy="-1.8" font-size="3.3">5</tspan></text><text x="43" y="661">10<tspan dy="-1.8" font-size="3.3">4</tspan></text><text x="43" y="682">10<tspan dy="-1.8" font-size="3.3">3</tspan></text><text x="43" y="694">0</text><text x="43" y="707">−10<tspan dy="-1.8" font-size="3.3">3</tspan></text>
</g>
<g font-size="4.6" text-anchor="middle">
<text x="63" y="629">0</text><text x="97" y="629">10<tspan dy="-1.8" font-size="3.3">4</tspan></text><text x="148" y="629">0</text><text x="182" y="629">10<tspan dy="-1.8" font-size="3.3">4</tspan></text><text x="235" y="629">0</text><text x="267" y="629">10<tspan dy="-1.8" font-size="3.3">4</tspan></text>
<text x="65" y="719">0</text><text x="97" y="719">10<tspan dy="-1.8" font-size="3.3">4</tspan></text><text x="150" y="719">0</text><text x="183" y="719">10<tspan dy="-1.8" font-size="3.3">4</tspan></text><text x="235" y="719">0</text><text x="268" y="719">10<tspan dy="-1.8" font-size="3.3">4</tspan></text>
</g>
<text x="167" y="728" text-anchor="middle">Annexin V FITC</text>

<!-- ================= PANEL I ================= -->
<rect x="351" y="548.5" width="9" height="5"/><text x="366" y="553">Live</text>
<rect x="400" y="548.5" width="12" height="5" fill="#e8e8e8" stroke="#000" stroke-width="0.6"/><text x="415" y="553">Early apoptosis</text>
<rect x="480" y="548.5" width="12" height="5" fill="#8c8c8c" stroke="#000" stroke-width="0.6"/><text x="495" y="553">Late apoptosis</text>
<g stroke="#000" stroke-width="0.8" fill="none">
<polyline points="331,571 331,693 565,693"/>
<path d="M328,693H331M328,669H331M328,645H331M328,621H331M328,597H331M328,573H331"/>
<path d="M359.5,693V696M420.5,693V696M482,693V696M543.5,693V696"/>
</g>
<g text-anchor="end"><text x="326" y="695">0</text><text x="326" y="671">20</text><text x="326" y="647">40</text><text x="326" y="623">60</text><text x="326" y="599">80</text><text x="326" y="575">100</text></g>
<text transform="translate(308,633) rotate(-90)" text-anchor="middle">Percentage of cells</text>
<g stroke="#000" stroke-width="0.6">
<rect x="342" y="598.2" width="9" height="94.8" fill="#000"/>
<rect x="355" y="673.8" width="9" height="19.2" fill="#e8e8e8"/>
<rect x="368" y="690.6" width="9" height="2.4" fill="#8c8c8c"/>
<rect x="404" y="597" width="9" height="96" fill="#000"/>
<rect x="416" y="671.4" width="9" height="21.6" fill="#e8e8e8"/>
<rect x="429" y="689.4" width="9" height="3.6" fill="#8c8c8c"/>
<rect x="465" y="670.2" width="9" height="22.8" fill="#000"/>
<rect x="477" y="640.2" width="9" height="52.8" fill="#e8e8e8"/>
<rect x="491" y="661.8" width="9" height="31.2" fill="#8c8c8c"/>
<rect x="526" y="683.4" width="9" height="9.6" fill="#000"/>
<rect x="538" y="635.4" width="9" height="57.6" fill="#e8e8e8"/>
<rect x="552" y="657" width="9" height="36" fill="#8c8c8c"/>
<path fill="none" d="M469.5,670.2V667.8M481.5,640.2V637.8M495.5,661.8V658.2M493.5,658.2H497.5"/>
</g>
<g fill="#aaa" stroke="#333" stroke-width="0.5">
<circle cx="346" cy="594" r="1.1"/><circle cx="348" cy="600" r="1.1"/><circle cx="359" cy="672" r="1.1"/><circle cx="361" cy="675" r="1.1"/><circle cx="370" cy="691" r="1.1"/><circle cx="375" cy="690" r="1.1"/>
<circle cx="408" cy="588" r="1.1"/><circle cx="407" cy="604" r="1.1"/><circle cx="420" cy="666" r="1.1"/><circle cx="419" cy="675" r="1.1"/><circle cx="433" cy="686" r="1.1"/><circle cx="434" cy="690" r="1.1"/>
<circle cx="469" cy="665" r="1.1"/><circle cx="467" cy="670" r="1.1"/><circle cx="472" cy="669" r="1.1"/><circle cx="481" cy="634" r="1.1"/><circle cx="478" cy="640" r="1.1"/><circle cx="484" cy="639" r="1.1"/>
<circle cx="495" cy="653" r="1.1"/><circle cx="493" cy="671" r="1.1"/><circle cx="497" cy="665" r="1.1"/>
<circle cx="529" cy="684" r="1.1"/><circle cx="533" cy="682" r="1.1"/><circle cx="542" cy="632" r="1.1"/><circle cx="540" cy="636" r="1.1"/><circle cx="545" cy="635" r="1.1"/>
<circle cx="553" cy="657" r="1.1"/><circle cx="557" cy="656" r="1.1"/><circle cx="560" cy="657" r="1.1"/>
</g>
<g stroke="#777" stroke-width="0.9"><line x1="469" y1="612" x2="528" y2="612"/></g>
<g stroke="#000" stroke-width="0.8"><line x1="342" y1="707" x2="438" y2="707"/><line x1="465" y1="707" x2="560" y2="707"/></g>
<g text-anchor="middle"><text x="498" y="610">*</text>
<text x="359" y="703">CFZ</text><text x="420" y="703">CFZ + CsA</text><text x="482" y="703">CFZ</text><text x="543" y="703">CFZ + CsA</text>
<text x="389" y="714">Patient Z01 CD138<tspan dy="-2" font-size="3.6">+</tspan></text><text x="513" y="714">Patient Z01 CD138<tspan dy="-2" font-size="3.6">+</tspan></text></g>
</svg>
</body></html>
